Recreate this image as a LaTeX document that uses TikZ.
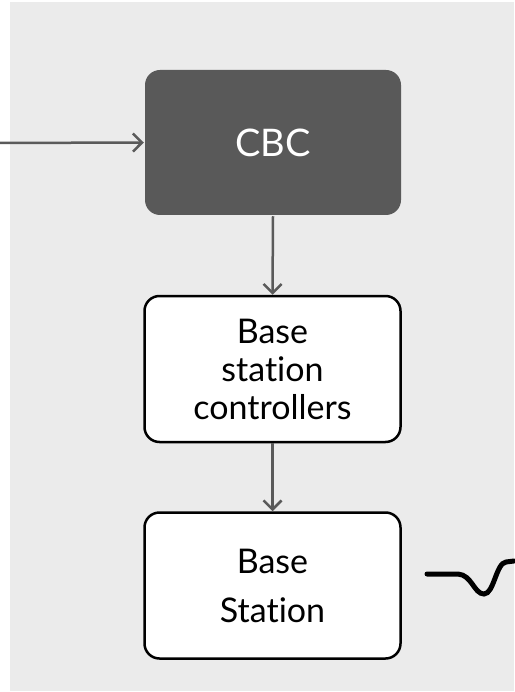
\documentclass[tikz,border=0pt]{standalone}
\usepackage{fontspec}
\setmainfont{Lato}[Ligatures=NoCommon]
\usetikzlibrary{arrows.meta}
\definecolor{bggray}{HTML}{EBEBEB}
\definecolor{dark}{HTML}{595959}
\definecolor{conn}{HTML}{5A5A5A}
\tikzset{
  box/.style={draw=black, line width=2.5pt, rounded corners=15pt, fill=white, minimum width=256pt, minimum height=146pt, align=center, font=\fontsize{34}{38}\selectfont, inner sep=0pt},
  darkbox/.style={box, draw=none, fill=dark, text=white, font=\fontsize{38}{40}\selectfont, minimum height=145pt},
  conn/.style={draw=conn, line width=2.5pt, -{Straight Barb[length=9pt,width=18pt,line width=2.5pt]}},
  wave/.style={draw=black, line width=5pt, line cap=round}
}
\begin{document}
\begin{tikzpicture}[x=1pt,y=-1pt]
\useasboundingbox (0,0) rectangle (514,692);
\fill[bggray] (10,2) rectangle (514,691);
\node[darkbox] (cbc) at (273,142.5) {CBC};
\node[box] (bsc) at (272.5,369) {Base\\station\\controllers};
\node[box] (bs) at (272.5,585.5) {Base\\[11pt]Station};
\coordinate (in) at (0,143);
\coordinate (w0) at (427,574);
\coordinate (w1) at (514,561);
\draw[conn] (in) -- (cbc.west);
\draw[conn] (cbc.south) -- (bsc.north);
\draw[conn] (bsc.south) -- (bs.north);
\draw[wave] (w0) -- (458,574) .. controls (472,575) and (474,594) .. (484,594) .. controls (494,594) and (496,563) .. (506,562) -- (w1);
\end{tikzpicture}
\end{document}
